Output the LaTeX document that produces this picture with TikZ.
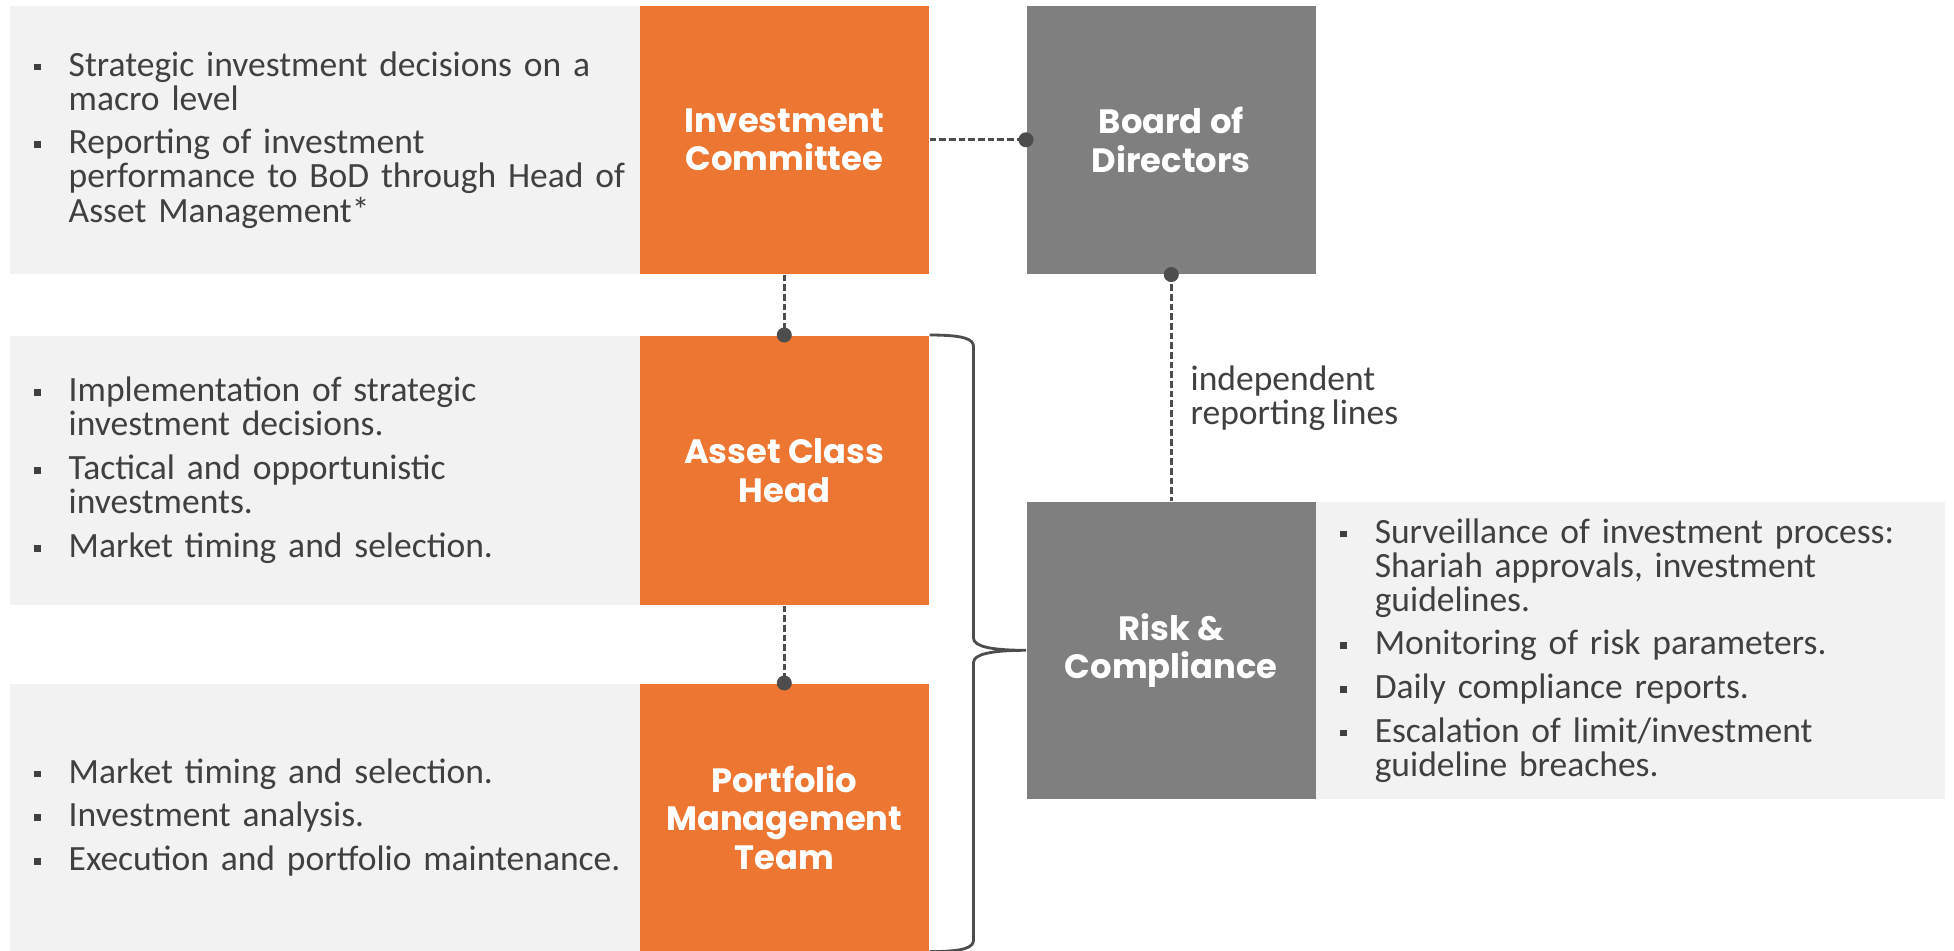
\documentclass[tikz,border=0pt]{standalone}
\usepackage{fontspec}
\setmainfont{Carlito}[WordSpace=0.8]
\newfontfamily\headfont{Poppins}
\usetikzlibrary{calc}
\definecolor{ornge}{HTML}{ED7632}
\definecolor{boxgrey}{HTML}{7F7F7F}
\definecolor{panelgrey}{HTML}{F2F2F2}
\definecolor{txtgrey}{HTML}{404040}
\definecolor{linegrey}{HTML}{4D4D4D}
\setlength{\lineskiplimit}{-5pt}
\newcommand{\itm}[1]{\mbox{\makebox[0.345cm][l]{\raisebox{0.16em}{\rule{0.19em}{0.19em}}}#1}}
\newcommand{\cnt}[1]{\mbox{\hspace*{0.345cm}#1}}
\begin{document}
\begin{tikzpicture}[x=0.01cm, y=-0.01cm,
    panel/.style={fill=panelgrey, anchor=north west, inner xsep=0.245cm, inner ysep=0,
      text=txtgrey, align=left, font=\fontsize{10.1}{9.7}\selectfont},
    role/.style={anchor=north west, minimum width=2.89cm, inner sep=0, text=white,
      align=center, font=\headfont\bfseries\fontsize{9.6}{11}\selectfont},
    link/.style={linegrey, line width=0.75pt, dash pattern=on 1.9pt off 0.85pt},
    bracelink/.style={linegrey, line width=0.8pt},
    note/.style={anchor=west, inner sep=0, align=left, text=txtgrey, font=\fontsize{10.1}{9.7}\selectfont}]

    \useasboundingbox (0,0) rectangle (1954,950);

    \draw(9,5) node[panel, text width=5.81cm, minimum height=2.68cm] (ICt)
    {\itm{Strategic investment decisions on a}\\\cnt{macro level}\\[2.7pt]
     \itm{Reporting of investment}\\\cnt{performance to BoD through Head of}\\\cnt{Asset Management*}};
    \draw(639,5) node[role, fill=ornge, minimum height=2.68cm] (IC) {Investment\\Committee};
    \draw(1026,5) node[role, fill=boxgrey, minimum height=2.68cm] (BoD) {Board of\\Directors};

    \draw(9,335) node[panel, text width=5.81cm, minimum height=2.69cm] (ACHt)
    {\itm{Implementation of strategic}\\\cnt{investment decisions.}\\[2.7pt]
     \itm{Tactical and opportunistic}\\\cnt{investments.}\\[2.7pt]
     \itm{Market timing and selection.}};
    \draw(639,335) node[role, fill=ornge, minimum height=2.69cm] (ACH) {Asset Class\\Head};

    \draw(9,683) node[panel, text width=5.81cm, minimum height=2.67cm] (PMTt)
    {\itm{Market timing and selection.}\\[2.7pt]
     \itm{Investment analysis.}\\[2.7pt]
     \itm{Execution and portfolio maintenance.}};
    \draw(639,683) node[role, fill=ornge, minimum height=2.67cm] (PMT) {Portfolio\\Management\\Team};

    \draw(1026,501) node[role, fill=boxgrey, minimum height=2.97cm] (RC) {Risk \&\\Compliance};
    \draw(1315,501) node[panel, text width=5.80cm, minimum height=2.97cm] (RCt)
    {\itm{Surveillance of investment process:}\\\cnt{Shariah approvals, investment}\\\cnt{guidelines.}\\[2.7pt]
     \itm{Monitoring of risk parameters.}\\[2.7pt]
     \itm{Daily compliance reports.}\\[2.7pt]
     \itm{Escalation of limit/investment}\\\cnt{guideline breaches.}};

    \draw[link] (IC.east) -- (BoD.west);
    \draw[link] (IC.south) -- (ACH.north);
    \draw[link] (ACH.south) -- (PMT.north);
    \draw[link] (BoD.south) -- (RC.north);
    \fill[linegrey] (BoD.west) circle[radius=0.075cm];
    \fill[linegrey] (ACH.north) circle[radius=0.075cm];
    \fill[linegrey] (PMT.north) circle[radius=0.075cm];
    \fill[linegrey] (BoD.south) circle[radius=0.075cm];

    \draw(1190,398.5) node[note] (lbl) {independent\\reporting lines};

    \draw[bracelink] (ACH.north east) .. controls +(35,0) and +(0,-8) .. ($(ACH.north east)+(44,12)$)
      -- ($(RC.west -| ACH.east)+(44,-12)$) .. controls +(0,8) and +(-35,0) .. (RC.west)
      .. controls +(-35,0) and +(0,-8) .. ($(RC.west -| ACH.east)+(44,12)$)
      -- ($(PMT.south east)+(44,-12)$) .. controls +(0,8) and +(35,0) .. (PMT.south east);

\end{tikzpicture}
\end{document}
